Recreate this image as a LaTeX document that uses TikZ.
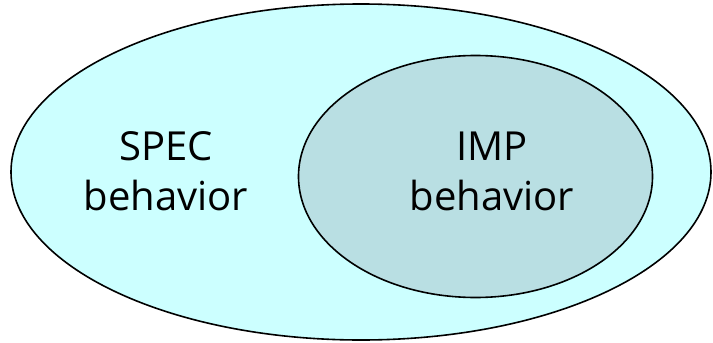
\documentclass[tikz,border=0pt]{standalone}
\usepackage{fontspec}
\setmainfont{Open Sans}
\definecolor{specfill}{RGB}{204,255,255}
\definecolor{impfill}{RGB}{185,223,227}
\begin{document}
\begin{tikzpicture}[x=1pt,y=-1pt,
  setline/.style={draw=black,line width=1.6pt},
  label/.style={align=center,font=\fontsize{40}{50}\selectfont,inner sep=0pt,anchor=base}]
\useasboundingbox (0,0) rectangle (713,343);
% outer set and the nested subset
\path[setline,fill=specfill] (361,172) ellipse [x radius=350,y radius=168];
\path[setline,fill=impfill] (475.5,176.5) ellipse [x radius=177,y radius=121];
\node[label] (spec) at (166,210) {SPEC\\behavior};
\node[label] (imp) at (492,210) {IMP\\behavior};
\end{tikzpicture}
\end{document}
